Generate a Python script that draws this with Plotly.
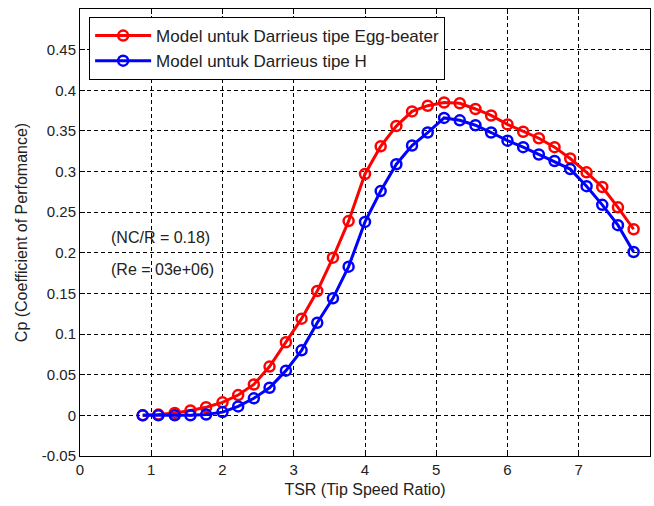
import plotly.graph_objects as go

tsr = [0.88, 1.10, 1.33, 1.55, 1.77, 2.00, 2.22, 2.44, 2.66, 2.89, 3.11, 3.33,
       3.55, 3.77, 4.00, 4.22, 4.44, 4.66, 4.88, 5.11, 5.33, 5.55, 5.77, 6.00,
       6.22, 6.44, 6.66, 6.88, 7.11, 7.33, 7.55, 7.77]
cp_egg = [0.000, 0.001, 0.003, 0.006, 0.010, 0.016, 0.025, 0.038, 0.060, 0.090,
          0.119, 0.153, 0.194, 0.239, 0.297, 0.331, 0.356, 0.374, 0.381, 0.385,
          0.384, 0.377, 0.369, 0.358, 0.349, 0.341, 0.330, 0.316, 0.299, 0.281,
          0.256, 0.229]
cp_h = [0.000, 0.000, 0.000, 0.000, 0.001, 0.004, 0.011, 0.021, 0.034, 0.055,
        0.080, 0.114, 0.144, 0.183, 0.238, 0.276, 0.309, 0.332, 0.348, 0.366,
        0.363, 0.357, 0.348, 0.338, 0.330, 0.321, 0.313, 0.303, 0.282, 0.259,
        0.234, 0.201]
series_names = ["Model untuk Darrieus tipe Egg-beater", "Model untuk Darrieus tipe H"]
series_colors = ["#ff0000", "#0000ff"]
x_ticks = [0, 1, 2, 3, 4, 5, 6, 7, 8]
y_ticks = [-0.05, 0, 0.05, 0.1, 0.15, 0.2, 0.25, 0.3, 0.35, 0.4, 0.45]
y_tick_labels = ["-0.05", "0", "0.05", "0.1", "0.15", "0.2", "0.25", "0.3", "0.35", "0.4", "0.45"]
notes = ["(NC/R = 0.18)", "(Re = 03e+06)"]
note_y = [0.219, 0.180]

FONT = "Liberation Sans, Arial, sans-serif"
TXT = "#222222"

fig = go.Figure()
for ys, name, col in zip([cp_egg, cp_h], series_names, series_colors):
    fig.add_trace(go.Scatter(
        x=tsr, y=ys, name=name, mode="lines+markers",
        line=dict(color=col, width=3),
        marker=dict(symbol="circle-open", size=10, color=col, line=dict(width=2.5, color=col)),
    ))

for txt, yy in zip(notes, note_y):
    fig.add_annotation(x=0.40, y=yy, text=txt, showarrow=False, xanchor="left",
                       yanchor="middle", font=dict(family=FONT, size=16, color=TXT))

axis_common = dict(
    showline=True, linecolor="black", linewidth=1, mirror="all",
    ticks="inside", ticklen=5, tickcolor="black",
    showgrid=True, gridcolor="black", gridwidth=1, griddash="4px,3px",
    zeroline=False, tickfont=dict(family=FONT, size=15, color=TXT),
    automargin=False,
)
fig.update_xaxes(range=[0, 8], tickvals=x_ticks,
                 title=dict(text="TSR (Tip Speed Ratio)", font=dict(family=FONT, size=16, color=TXT), standoff=6),
                 **axis_common)
fig.update_yaxes(range=[-0.05, 0.5], tickvals=y_ticks, ticktext=y_tick_labels,
                 title=dict(text="Cp (Coefficient of Perfomance)", font=dict(family=FONT, size=16, color=TXT), standoff=10),
                 **axis_common)

fig.update_layout(
    width=654, height=506,
    margin=dict(l=80, r=4, t=9, b=50),
    paper_bgcolor="white", plot_bgcolor="white",
    showlegend=True,
    legend=dict(x=0.016, y=0.982, xanchor="left", yanchor="top",
                bgcolor="white", bordercolor="black", borderwidth=1,
                font=dict(family=FONT, size=17, color=TXT),
                tracegroupgap=0, itemwidth=56),
)

fig.write_html("out.html", config={"displayModeBar": False},
               post_script="document.body.style.margin='0';document.body.style.overflow='hidden';")
